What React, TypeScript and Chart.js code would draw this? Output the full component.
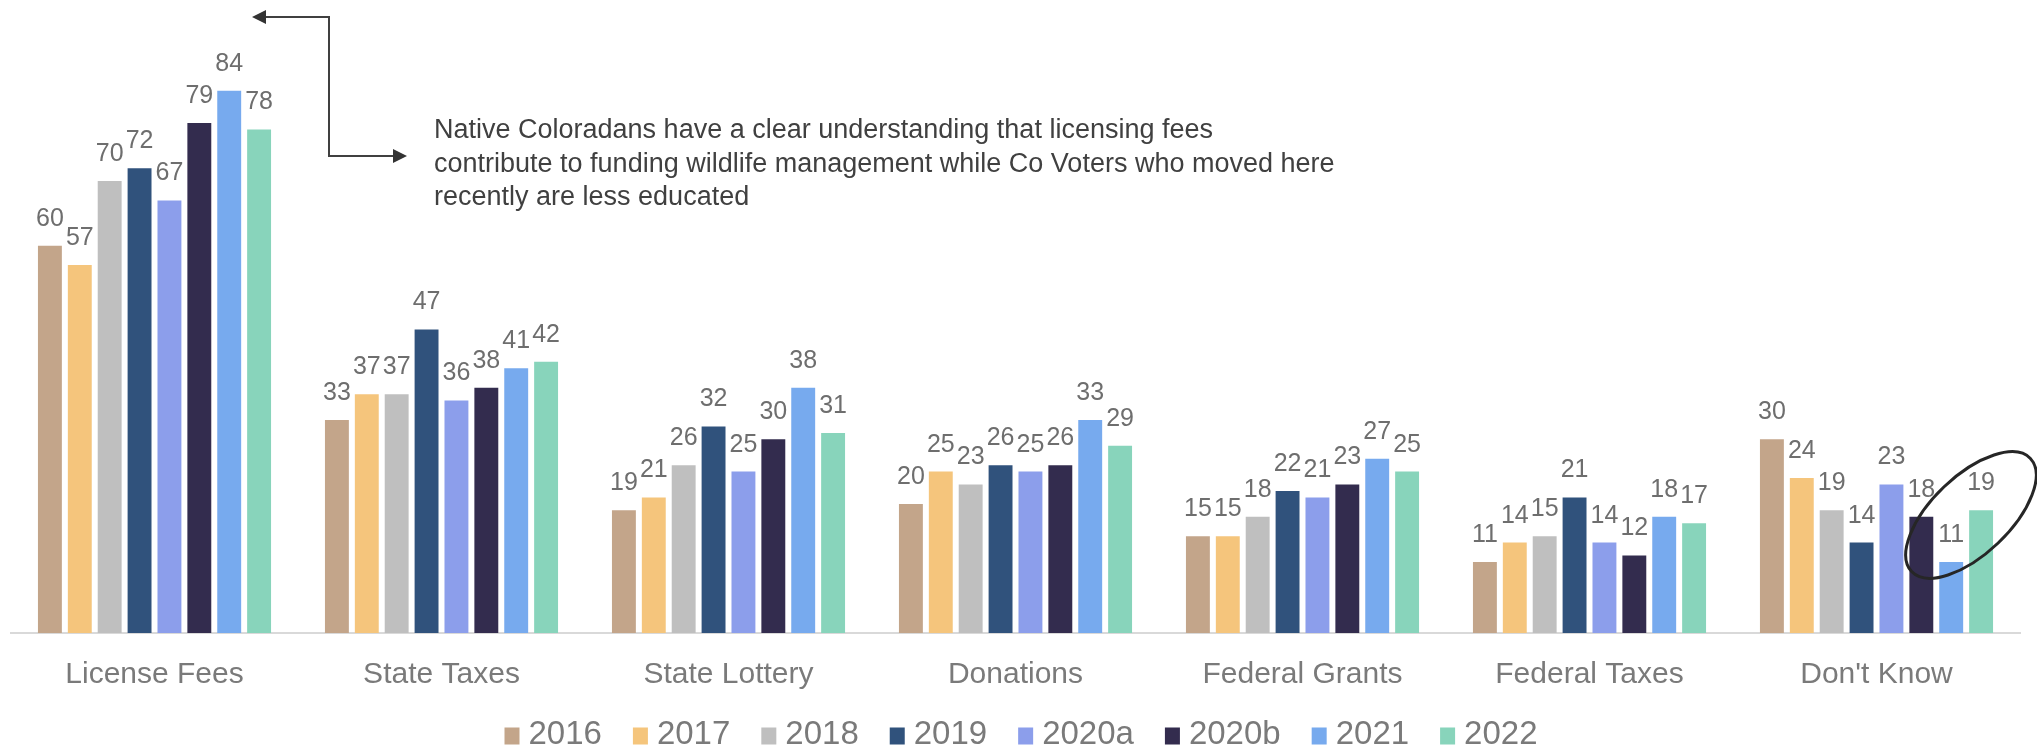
import React, { useEffect, useRef } from "react";
import { Chart, registerables } from "chart.js";

Chart.register(...registerables);

// ---------- data ----------
const categories = [
  "License Fees",
  "State Taxes",
  "State Lottery",
  "Donations",
  "Federal Grants",
  "Federal Taxes",
  "Don't Know",
];
const seriesNames = ["2016", "2017", "2018", "2019", "2020a", "2020b", "2021", "2022"];
const seriesColors = [
  "#C3A58A",
  "#F5C57C",
  "#BFBFBF",
  "#30527C",
  "#8C9EEB",
  "#332C4E",
  "#77AAEE",
  "#88D4BB",
];
const v2016 = [60, 33, 19, 20, 15, 11, 30];
const v2017 = [57, 37, 21, 25, 15, 14, 24];
const v2018 = [70, 37, 26, 23, 18, 15, 19];
const v2019 = [72, 47, 32, 26, 22, 21, 14];
const v2020a = [67, 36, 25, 25, 21, 14, 23];
const v2020b = [79, 38, 30, 26, 23, 12, 18];
const v2021 = [84, 41, 38, 33, 27, 18, 11];
const v2022 = [78, 42, 31, 29, 25, 17, 19];
const seriesValues = [v2016, v2017, v2018, v2019, v2020a, v2020b, v2021, v2022];

const annotationLines = [
  "Native Coloradans have a clear understanding that licensing fees",
  "contribute to funding wildlife management while Co Voters who moved here",
  "recently are less educated",
];

const FONT = "'Liberation Sans', Arial, sans-serif";

// ---------- plugins ----------
const dataLabelPlugin = {
  id: "dataLabels",
  afterDatasetsDraw(chart: any) {
    const ctx = chart.ctx;
    ctx.save();
    ctx.font = `25px ${FONT}`;
    ctx.fillStyle = "#6E6E6E";
    ctx.textAlign = "center";
    ctx.textBaseline = "middle";
    chart.data.datasets.forEach((ds: any, i: number) => {
      const meta = chart.getDatasetMeta(i);
      meta.data.forEach((bar: any, j: number) => {
        ctx.fillText(String(ds.data[j]), bar.x, bar.y - 27);
      });
    });
    ctx.restore();
  },
};

const customLegendPlugin = {
  id: "customLegend",
  afterDraw(chart: any) {
    const ctx = chart.ctx;
    ctx.save();
    ctx.font = `33px ${FONT}`;
    ctx.textBaseline = "middle";
    ctx.textAlign = "left";
    const boxW = 15;
    const boxH = 17;
    const gap = 9;
    const spacing = 31;
    const items = chart.data.datasets.map((ds: any) => ({
      text: ds.label,
      color: ds.backgroundColor,
      w: ctx.measureText(ds.label).width,
    }));
    let total = 0;
    items.forEach((it: any, i: number) => {
      total += boxW + gap + it.w + (i < items.length - 1 ? spacing : 0);
    });
    const cy = 735;
    let x = chart.width / 2 + 2.5 - total / 2;
    items.forEach((it: any) => {
      ctx.fillStyle = it.color;
      ctx.fillRect(x, cy - boxH / 2 + 1, boxW, boxH);
      ctx.fillStyle = "#7A7A7A";
      ctx.fillText(it.text, x + boxW + gap, cy);
      x += boxW + gap + it.w + spacing;
    });
    ctx.restore();
  },
};

function arrowHead(ctx: CanvasRenderingContext2D, tipX: number, tipY: number, dir: number) {
  const len = 14;
  const half = 7;
  ctx.beginPath();
  ctx.moveTo(tipX, tipY);
  ctx.lineTo(tipX - dir * len, tipY - half);
  ctx.lineTo(tipX - dir * len, tipY + half);
  ctx.closePath();
  ctx.fill();
}

const annotationPlugin = {
  id: "annotation",
  afterDraw(chart: any) {
    const ctx = chart.ctx as CanvasRenderingContext2D;
    ctx.save();
    // text
    ctx.font = `27px ${FONT}`;
    ctx.fillStyle = "#404040";
    ctx.textAlign = "left";
    ctx.textBaseline = "middle";
    annotationLines.forEach((line, i) => {
      ctx.fillText(line, 434, 131 + i * 33.5);
    });
    // elbow arrow
    ctx.strokeStyle = "#404040";
    ctx.fillStyle = "#333333";
    ctx.lineWidth = 2;
    ctx.beginPath();
    ctx.moveTo(264, 17);
    ctx.lineTo(329, 17);
    ctx.lineTo(329, 156);
    ctx.lineTo(395, 156);
    ctx.stroke();
    arrowHead(ctx, 252, 17, -1);
    arrowHead(ctx, 407, 156, 1);
    // ellipse
    ctx.strokeStyle = "#262626";
    ctx.lineWidth = 3;
    ctx.beginPath();
    ctx.ellipse(1971, 515, 82, 39, (-43.6 * Math.PI) / 180, 0, Math.PI * 2);
    ctx.stroke();
    ctx.restore();
  },
};

export default function App() {
  const ref = useRef<HTMLCanvasElement>(null);

  useEffect(() => {
    const canvas = ref.current;
    if (!canvas) return;
    const chart = new Chart(canvas, {
      type: "bar",
      data: {
        labels: categories,
        datasets: seriesNames.map((name, i) => ({
          label: name,
          data: seriesValues[i],
          backgroundColor: seriesColors[i],
          borderWidth: 0,
          categoryPercentage: 0.833,
          barPercentage: 0.8,
        })),
      },
      options: {
        responsive: false,
        animation: false,
        devicePixelRatio: 1,
        layout: { padding: { top: 52, left: 11, right: 17, bottom: 33 } },
        plugins: {
          legend: { display: false },
          tooltip: { enabled: false },
        },
        scales: {
          x: {
            grid: { display: false, drawTicks: false },
            border: { display: true, color: "#D9D9D9", width: 2 },
            ticks: {
              color: "#7A7A7A",
              font: { family: FONT, size: 30 },
              padding: 24,
              maxRotation: 0,
              autoSkip: false,
            },
          },
          y: {
            display: false,
            min: 0,
            max: 90,
          },
        },
      },
      plugins: [dataLabelPlugin, customLegendPlugin, annotationPlugin],
    });
    return () => chart.destroy();
  }, []);

  return (
    <div
      style={{
        position: "fixed",
        left: 0,
        top: 0,
        width: 2037,
        height: 750,
        background: "#ffffff",
      }}
    >
      <canvas
        ref={ref}
        width={2037}
        height={750}
        style={{ display: "block", width: 2037, height: 750 }}
      />
    </div>
  );
}
